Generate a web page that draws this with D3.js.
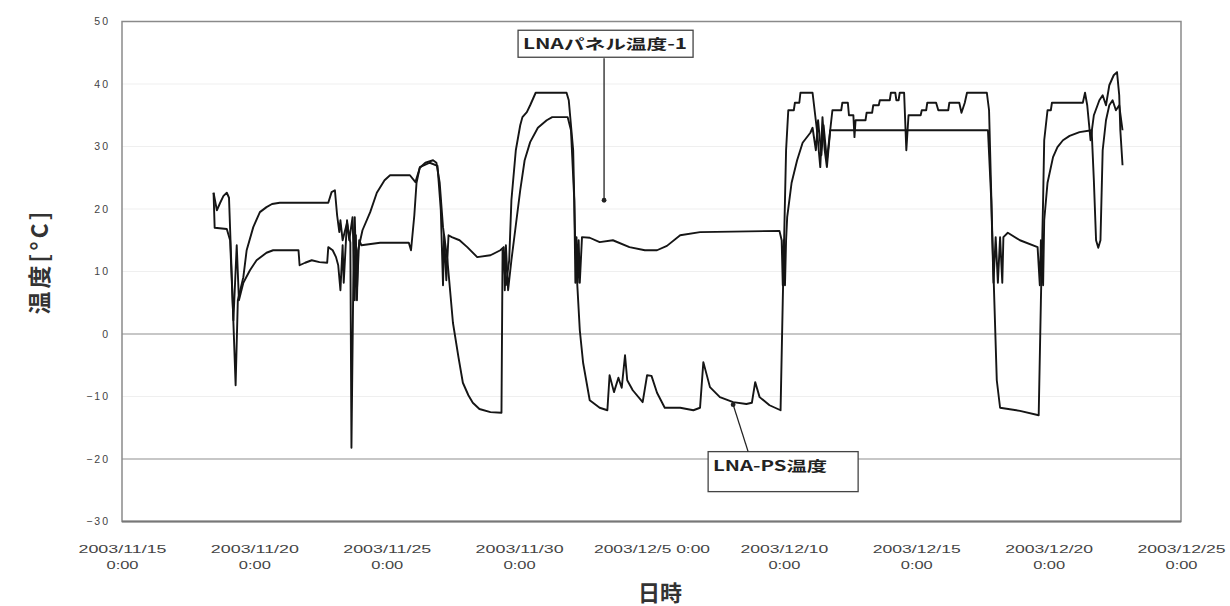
<!DOCTYPE html>
<html>
<head>
<meta charset="utf-8">
<script src="https://cdn.jsdelivr.net/npm/d3@7"></script>
<style>
  html, body { margin: 0; padding: 0; background: #fff; }
  svg { display: block; }
</style>
</head>
<body>
<svg id="chart" width="1230" height="606"></svg>
<script>
// LNA temperature log, 2003/11/15 – 2003/12/25 (time "MM/DD HH:MM", °C)
const panelTemp = [
  ["11/18 11:00",22.6],["11/18 12:00",17.0],["11/18 23:00",16.8],["11/19 02:00",15.0],["11/19 05:00",2.2],
  ["11/19 08:00",14.2],["11/19 10:00",5.4],["11/19 14:00",8.2],["11/19 20:00",10.2],["11/20 02:00",11.8],
  ["11/20 11:00",13.0],["11/20 17:00",13.4],["11/21 16:00",13.4],["11/21 17:00",11.0],["11/21 22:00",11.4],
  ["11/22 04:00",11.8],["11/22 11:00",11.5],["11/22 18:00",11.4],["11/22 19:00",13.9],["11/22 23:00",13.4],
  ["11/23 02:00",12.3],["11/23 04:00",11.0],["11/23 06:00",7.0],["11/23 08:00",14.2],["11/23 09:00",8.2],
  ["11/23 12:00",18.2],["11/23 14:00",15.0],["11/23 17:00",18.7],["11/23 19:00",5.4],["11/23 20:00",15.8],
  ["11/23 21:00",7.0],["11/23 23:00",15.0],["11/24 01:00",14.2],["11/24 18:00",14.6],["11/25 20:00",14.6],
  ["11/25 22:00",13.4],["11/26 01:00",19.0],["11/26 03:00",24.2],["11/26 06:00",26.7],["11/26 15:00",27.4],
  ["11/26 22:00",26.9],["11/27 01:00",19.8],["11/27 03:00",7.8],["11/27 04:00",15.8],["11/27 06:00",8.6],
  ["11/27 08:00",15.8],["11/27 11:00",15.5],["11/27 18:00",15.0],["11/28 01:00",13.9],["11/28 10:00",12.3],
  ["11/28 22:00",12.6],["11/29 07:00",13.4],["11/29 10:00",13.9],["11/29 11:00",7.0],["11/29 12:00",14.2],
  ["11/29 14:00",7.0],["11/29 17:00",11.8],["11/29 21:00",17.4],["11/30 01:00",23.0],["11/30 05:00",27.8],
  ["11/30 10:00",30.7],["11/30 17:00",33.0],["12/01 01:00",34.2],["12/01 06:00",34.7],["12/01 20:00",34.7],
  ["12/01 23:00",32.6],["12/02 02:00",21.4],["12/02 03:00",8.2],["12/02 04:00",15.5],["12/02 05:00",8.2],
  ["12/02 06:00",15.0],["12/02 07:00",8.2],["12/02 09:00",15.5],["12/02 16:00",15.4],["12/03 01:00",14.7],
  ["12/03 13:00",15.0],["12/04 04:00",13.9],["12/04 18:00",13.4],["12/05 05:00",13.4],["12/05 14:00",14.1],
  ["12/06 02:00",15.8],["12/06 20:00",16.3],["12/09 20:00",16.5],["12/09 22:00",15.0],["12/09 23:00",7.8],
  ["12/10 00:00",15.0],["12/10 01:00",7.8],["12/10 02:00",15.0],["12/10 03:00",18.7],["12/10 07:00",24.2],
  ["12/10 12:00",27.8],["12/10 17:00",30.6],["12/11 00:00",32.2],["12/11 02:00",33.0],["12/11 05:00",29.4],
  ["12/11 07:00",34.2],["12/11 10:00",28.6],["12/11 12:00",33.4],["12/11 15:00",27.8],["12/11 18:00",32.6],
  ["12/17 17:00",32.6],["12/17 20:00",21.4],["12/17 22:00",8.2],["12/18 00:00",15.5],["12/18 02:00",8.2],
  ["12/18 04:00",15.5],["12/18 06:00",8.2],["12/18 07:00",15.5],["12/18 11:00",16.2],["12/18 22:00",15.0],
  ["12/19 14:00",13.9],["12/19 16:00",7.8],["12/19 17:00",15.0],["12/19 19:00",7.8],["12/19 20:00",18.2],
  ["12/19 23:00",24.2],["12/20 04:00",28.3],["12/20 08:00",29.9],["12/20 13:00",31.0],["12/20 19:00",31.7],
  ["12/21 04:00",32.3],["12/21 15:00",32.6],["12/21 17:00",24.6],["12/21 19:00",15.0],["12/21 21:00",13.8],
  ["12/21 23:00",15.0],["12/22 01:00",29.4],["12/22 04:00",34.2],["12/22 07:00",36.6],["12/22 10:00",37.4],
  ["12/22 13:00",35.8],["12/22 16:00",36.6],["12/22 19:00",32.6]
];

const psTemp = [
  ["11/18 11:00",22.6],["11/18 14:00",19.8],["11/18 17:00",21.0],["11/18 20:00",22.1],["11/18 23:00",22.6],
  ["11/19 01:00",21.8],["11/19 07:00",-8.2],["11/19 09:00",5.4],["11/19 14:00",9.1],["11/19 17:00",13.4],
  ["11/19 23:00",17.1],["11/20 05:00",19.5],["11/20 11:00",20.3],["11/20 16:00",20.8],["11/20 23:00",21.0],
  ["11/22 19:00",21.0],["11/22 22:00",22.7],["11/23 01:00",23.0],["11/23 03:00",19.0],["11/23 05:00",16.3],
  ["11/23 06:00",18.2],["11/23 08:00",15.0],["11/23 12:00",17.8],["11/23 15:00",14.6],["11/23 16:00",-18.2],
  ["11/23 18:00",13.4],["11/23 19:00",18.7],["11/23 21:00",5.4],["11/23 22:00",13.4],["11/24 00:00",15.0],
  ["11/24 02:00",16.6],["11/24 09:00",19.5],["11/24 15:00",22.6],["11/24 22:00",24.6],["11/25 03:00",25.4],
  ["11/25 21:00",25.4],["11/26 02:00",24.3],["11/26 06:00",26.6],["11/26 11:00",27.4],["11/26 18:00",27.8],
  ["11/26 21:00",27.4],["11/27 00:00",24.2],["11/27 03:00",17.1],["11/27 07:00",11.8],["11/27 12:00",1.8],
  ["11/27 17:00",-3.7],["11/27 21:00",-7.8],["11/28 02:00",-9.8],["11/28 06:00",-11.0],["11/28 12:00",-12.0],
  ["11/28 22:00",-12.5],["11/29 08:00",-12.6],["11/29 09:00",13.4],["11/29 12:00",7.8],["11/29 15:00",11.8],
  ["11/29 17:00",21.4],["11/29 21:00",29.4],["11/30 01:00",33.4],["11/30 03:00",34.7],["11/30 07:00",35.5],
  ["11/30 10:00",36.6],["11/30 13:00",37.8],["11/30 15:00",38.6],["12/01 19:00",38.6],["12/01 21:00",37.4],
  ["12/02 01:00",29.4],["12/02 03:00",13.4],["12/02 07:00",0.6],["12/02 10:00",-4.6],["12/02 16:00",-10.6],
  ["12/03 01:00",-11.8],["12/03 08:00",-12.2],["12/03 10:00",-6.6],["12/03 14:00",-9.3],["12/03 18:00",-7.0],
  ["12/03 21:00",-8.6],["12/04 00:00",-3.4],["12/04 02:00",-7.4],["12/04 07:00",-9.0],["12/04 16:00",-10.9],
  ["12/04 20:00",-6.6],["12/05 00:00",-6.7],["12/05 05:00",-9.4],["12/05 12:00",-11.8],["12/06 02:00",-11.8],
  ["12/06 14:00",-12.2],["12/06 20:00",-11.8],["12/06 23:00",-4.5],["12/07 05:00",-8.5],["12/07 14:00",-10.1],
  ["12/08 02:00",-10.9],["12/08 14:00",-11.2],["12/08 19:00",-11.0],["12/08 22:00",-7.7],["12/09 02:00",-10.1],
  ["12/09 11:00",-11.4],["12/09 21:00",-12.2],["12/09 23:00",5.4],["12/10 02:00",29.4],["12/10 04:00",35.8],
  ["12/10 09:00",35.8],["12/10 10:00",37.0],["12/10 14:00",37.0],["12/10 15:00",38.6],["12/11 02:00",38.6],
  ["12/11 06:00",32.6],["12/11 09:00",26.7],["12/11 11:00",34.7],["12/11 13:00",29.4],["12/11 15:00",26.7],
  ["12/11 18:00",32.6],["12/11 20:00",35.8],["12/12 04:00",35.8],["12/12 05:00",37.0],["12/12 10:00",37.0],
  ["12/12 11:00",35.0],["12/12 15:00",35.0],["12/12 16:00",31.5],["12/12 17:00",34.2],["12/13 02:00",34.2],
  ["12/13 03:00",35.4],["12/13 08:00",35.4],["12/13 09:00",36.6],["12/13 14:00",36.6],["12/13 15:00",37.4],
  ["12/14 00:00",37.4],["12/14 01:00",38.6],["12/14 05:00",38.6],["12/14 06:00",37.4],["12/14 08:00",37.4],
  ["12/14 09:00",38.6],["12/14 13:00",38.6],["12/14 15:00",29.4],["12/14 17:00",35.0],["12/15 04:00",35.0],
  ["12/15 05:00",35.8],["12/15 09:00",35.8],["12/15 10:00",37.0],["12/15 18:00",37.0],["12/15 20:00",35.8],
  ["12/16 05:00",35.8],["12/16 06:00",37.0],["12/16 15:00",37.0],["12/16 17:00",35.4],["12/16 20:00",37.0],
  ["12/16 22:00",38.6],["12/17 16:00",38.6],["12/17 18:00",35.8],["12/17 21:00",15.5],["12/18 01:00",-7.4],
  ["12/18 04:00",-11.8],["12/18 22:00",-12.3],["12/19 15:00",-13.0],["12/19 17:00",5.4],["12/19 19:00",21.4],
  ["12/19 20:00",31.0],["12/19 23:00",35.8],["12/20 02:00",35.8],["12/20 03:00",37.0],["12/21 07:00",37.0],
  ["12/21 09:00",38.6],["12/21 11:00",36.6],["12/21 14:00",31.0],["12/21 17:00",35.0],["12/21 22:00",37.4],
  ["12/22 01:00",38.2],["12/22 04:00",36.6],["12/22 07:00",39.8],["12/22 11:00",41.4],["12/22 14:00",41.9],
  ["12/22 16:00",38.2],["12/22 17:00",32.6],["12/22 19:00",27.0]
];

// Axis ticks
const yTicks = [50, 40, 30, 20, 10, 0, -10, -20, -30];
const xTickDates = ["11/15 00:00","11/20 00:00","11/25 00:00","11/30 00:00","12/05 00:00","12/10 00:00","12/15 00:00","12/20 00:00","12/25 00:00"];
const xTickLines = [
  ["2003/11/15","0:00"],["2003/11/20","0:00"],["2003/11/25","0:00"],["2003/11/30","0:00"],
  ["2003/12/5 0:00"],["2003/12/10","0:00"],["2003/12/15","0:00"],["2003/12/20","0:00"],["2003/12/25","0:00"]
];

// Callouts: label text and the point each leader line touches
const calloutLabels = ["LNAパネル温度-1", "LNA-PS温度"];
const calloutTargets = [["12/03 05:00", 21.4], ["12/08 02:00", -11.3]];

const parseTime = s => d3.timeParse("%Y/%m/%d %H:%M")("2003/" + s);

const margin = {left: 122, right: 49, top: 21.5, bottom: 84.5};
const W = 1230, H = 606;
const svg = d3.select("#chart");

const x = d3.scaleTime()
  .domain([parseTime("11/15 00:00"), parseTime("12/25 00:00")])
  .range([margin.left, W - margin.right]);
const y = d3.scaleLinear()
  .domain([-30, 50])
  .range([H - margin.bottom, margin.top]);

// Horizontal gridlines
svg.append("g").selectAll("line")
  .data(yTicks.filter(v => v > -30 && v < 50))
  .join("line")
  .attr("x1", margin.left).attr("x2", W - margin.right)
  .attr("y1", d => y(d)).attr("y2", d => y(d))
  .attr("stroke", d => (d === 0 || d === -20) ? "#b4b4b4" : "#efefef")
  .attr("stroke-width", d => (d === 0 || d === -20) ? 1.3 : 1);

// Plot frame
svg.append("rect")
  .attr("x", margin.left).attr("y", margin.top)
  .attr("width", W - margin.left - margin.right)
  .attr("height", H - margin.top - margin.bottom)
  .attr("fill", "none").attr("stroke", "#8a8a8a").attr("stroke-width", 1.5);
svg.append("line")
  .attr("x1", margin.left).attr("x2", W - margin.right)
  .attr("y1", y(-30)).attr("y2", y(-30))
  .attr("stroke", "#777").attr("stroke-width", 2);

// Y axis (labels only)
const yAxis = d3.axisLeft(y).tickValues(yTicks).tickSize(0).tickPadding(12)
  .tickFormat(d => d < 0 ? "\u2212" + Math.abs(d) : String(d));
const gy = svg.append("g").attr("transform", `translate(${margin.left},0)`).call(yAxis);
gy.select(".domain").remove();
gy.selectAll("text")
  .attr("font-family", "Liberation Sans, Arial, sans-serif")
  .attr("font-size", 10.5).attr("fill", "#444")
  .attr("letter-spacing", 2);

// X axis (labels only, two lines each)
const xAxis = d3.axisBottom(x).tickValues(xTickDates.map(parseTime)).tickSize(0).tickFormat("");
const gx = svg.append("g").attr("transform", `translate(0,${y(-30)})`).call(xAxis);
gx.select(".domain").remove();
gx.selectAll(".tick").each(function(d, i) {
  const lines = xTickLines[i];
  const t = d3.select(this).append("text")
    .attr("text-anchor", "middle")
    .attr("font-family", "Liberation Sans, Arial, sans-serif")
    .attr("font-size", 11.5).attr("fill", "#444");
  lines.forEach((s, j) => {
    t.append("tspan").attr("x", 0).attr("y", j === 0 ? 31 : 47)
      .attr("textLength", s.length > 10 ? 116 : (s.length > 5 ? 88 : 32))
      .attr("lengthAdjust", "spacingAndGlyphs")
      .text(s);
  });
});

// Axis titles
svg.append("text")
  .attr("transform", `translate(48,${(y(50) + y(-30)) / 2 - 10}) rotate(-90)`)
  .attr("text-anchor", "middle")
  .attr("font-family", "Noto Sans CJK JP, sans-serif")
  .attr("font-size", 23).attr("font-weight", 700).attr("fill", "#333")
  .attr("letter-spacing", 3)
  .text("温度[°C]");
svg.append("text")
  .attr("x", 660).attr("y", 601)
  .attr("text-anchor", "middle")
  .attr("font-family", "Noto Sans CJK JP, sans-serif")
  .attr("font-size", 22).attr("font-weight", 700).attr("fill", "#333")
  .text("日時");

// Temperature series
const line = d3.line()
  .x(d => x(parseTime(d[0])))
  .y(d => y(d[1]));
[panelTemp, psTemp].forEach(series => {
  svg.append("path")
    .datum(series)
    .attr("d", line)
    .attr("fill", "none")
    .attr("stroke", "#151515")
    .attr("stroke-width", 1.9)
    .attr("stroke-linejoin", "round");
});

// Callouts
const calloutBoxes = [
  {dx: -86, dy: -170, w: 175, h: 27, lineFromDx: 0, textLen: 164},
  {dx: -25, dy: 47, w: 150, h: 40, lineFromDx: 15, textLen: 114}
];
calloutLabels.forEach((label, i) => {
  const tx = x(parseTime(calloutTargets[i][0]));
  const ty = y(calloutTargets[i][1]);
  const b = calloutBoxes[i];
  const bx = tx + b.dx, by = ty + b.dy;
  const g = svg.append("g");
  g.append("rect")
    .attr("x", bx).attr("y", by).attr("width", b.w).attr("height", b.h)
    .attr("fill", "#fff").attr("stroke", "#444").attr("stroke-width", 1.3);
  g.append("text")
    .attr("x", bx + 5).attr("y", by + 19)
    .attr("font-family", "Noto Sans CJK JP, sans-serif")
    .attr("font-size", 14).attr("font-weight", 700).attr("fill", "#222")
    .attr("textLength", b.textLen).attr("lengthAdjust", "spacingAndGlyphs")
    .text(label);
  const sy = b.dy < 0 ? by + b.h + 1 : by;
  const sx = tx + b.lineFromDx;
  g.append("line")
    .attr("x1", sx).attr("y1", sy).attr("x2", tx).attr("y2", ty)
    .attr("stroke", "#222").attr("stroke-width", 1.3);
  g.append("circle").attr("cx", tx).attr("cy", ty).attr("r", 2.4).attr("fill", "#222");
});
</script>
</body>
</html>
